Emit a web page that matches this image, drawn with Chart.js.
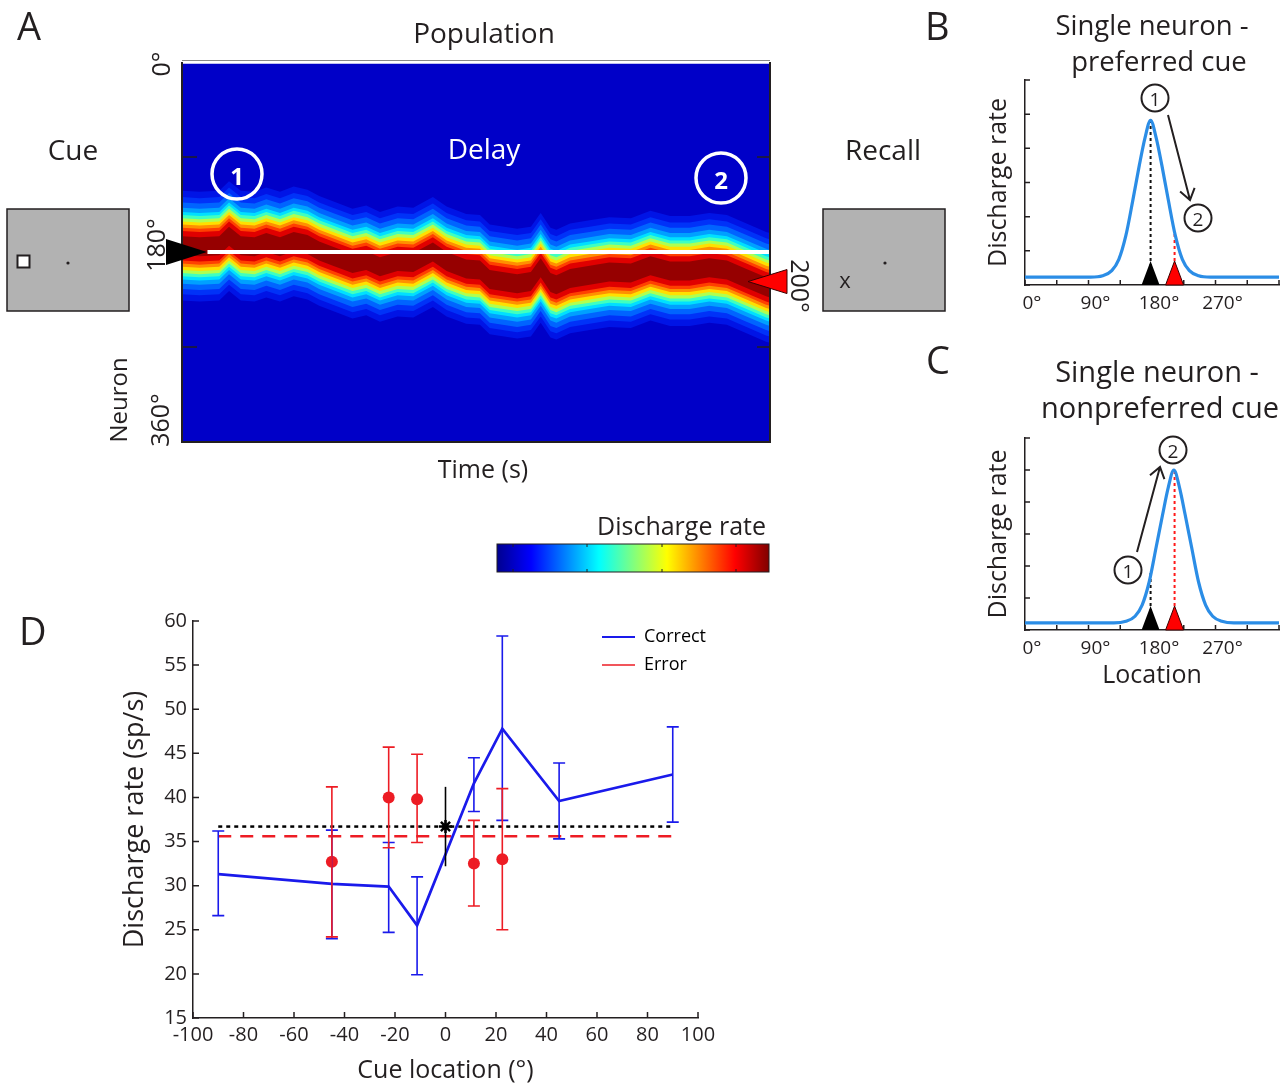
<!DOCTYPE html>
<html lang="en">
<head>
<meta charset="UTF-8">
<title>Population drift and single neuron tuning</title>
<script src="https://cdn.jsdelivr.net/npm/chart.js"></script>
<style>
  body { margin: 0; background: #fff; }
  #page { position: relative; width: 1286px; height: 1086px; overflow: hidden; }
  canvas { position: absolute; }
  #overlay { position: absolute; left: 0; top: 0; pointer-events: none; }
</style>
</head>
<body>
<div id="page">
  <canvas id="heat" width="680" height="430" style="left:140px;top:40px"></canvas>
  <canvas id="prefChart" width="326" height="250" style="left:960px;top:70px"></canvas>
  <canvas id="nonprefChart" width="326" height="275" style="left:960px;top:420px"></canvas>
  <canvas id="rateChart" width="640" height="496" style="left:100px;top:590px"></canvas>

  <svg id="overlay" width="1286" height="1086" font-family="'Open Sans', sans-serif" fill="#231f20">
    <defs>
      <linearGradient id="jet" x1="0" x2="1" y1="0" y2="0">
        <stop offset="0" stop-color="#00008f"/>
        <stop offset="0.125" stop-color="#0000ff"/>
        <stop offset="0.375" stop-color="#00ffff"/>
        <stop offset="0.625" stop-color="#ffff00"/>
        <stop offset="0.875" stop-color="#ff0000"/>
        <stop offset="1" stop-color="#800000"/>
      </linearGradient>
    </defs>
    <!-- panel letters -->
    <text x="17" y="40" font-size="38">A</text>
    <text x="925" y="40" font-size="38">B</text>
    <text x="926" y="374" font-size="38">C</text>
    <text x="19" y="645" font-size="38">D</text>

    <!-- panel A text -->
    <text x="484" y="43" font-size="28" text-anchor="middle">Population</text>
    <text x="73" y="160" font-size="28" text-anchor="middle">Cue</text>
    <text x="883" y="160" font-size="28" text-anchor="middle">Recall</text>
    <text x="484" y="159" font-size="28" text-anchor="middle" fill="#ffffff">Delay</text>
    <text x="483" y="478" font-size="25" text-anchor="middle">Time (s)</text>
    <text transform="translate(160,64) rotate(-90)" font-size="25" text-anchor="middle" dominant-baseline="central">0°</text>
    <text transform="translate(155,245) rotate(-90)" font-size="25" text-anchor="middle" dominant-baseline="central">180°</text>
    <text transform="translate(159,420) rotate(-90)" font-size="25" text-anchor="middle" dominant-baseline="central">360°</text>
    <text transform="translate(117,400) rotate(-90)" font-size="24" text-anchor="middle" dominant-baseline="central">Neuron</text>
    <text transform="translate(801,286) rotate(90)" font-size="25" text-anchor="middle" dominant-baseline="central">200°</text>

    <!-- circled epochs -->
    <circle cx="237" cy="174" r="25" fill="none" stroke="#ffffff" stroke-width="3.5"/>
    <text x="237" y="175" font-size="24" font-weight="bold" fill="#ffffff" text-anchor="middle" dominant-baseline="central">1</text>
    <circle cx="721" cy="178" r="25" fill="none" stroke="#ffffff" stroke-width="3.5"/>
    <text x="721" y="179" font-size="24" font-weight="bold" fill="#ffffff" text-anchor="middle" dominant-baseline="central">2</text>

    <!-- cue and recall screens -->
    <rect x="7" y="209" width="122" height="102" fill="#b2b2b2" stroke="#231f20" stroke-width="1.5"/>
    <rect x="17.5" y="255.5" width="12" height="12" fill="#ffffff" stroke="#231f20" stroke-width="2"/>
    <circle cx="68" cy="263" r="1.6"/>
    <rect x="823" y="209" width="122" height="102" fill="#b2b2b2" stroke="#231f20" stroke-width="1.5"/>
    <text x="845" y="279" font-size="22" text-anchor="middle" dominant-baseline="central">x</text>
    <circle cx="885" cy="263" r="1.6"/>

    <!-- colour bar -->
    <text x="766" y="535" font-size="25" text-anchor="end">Discharge rate</text>
    <rect x="497" y="544" width="272" height="28" fill="url(#jet)" stroke="#231f20" stroke-width="1"/>
    <path d="M513 544v3M587 544v3M662 544v3M736 544v3M513 572v-3M587 572v-3M662 572v-3M736 572v-3" stroke="#231f20" stroke-width="1"/>

    <!-- panel B -->
    <text x="1152" y="35" font-size="27.5" text-anchor="middle">Single neuron -</text>
    <text x="1159" y="71" font-size="27.5" text-anchor="middle">preferred cue</text>
    <circle cx="1155" cy="98" r="13.5" fill="#ffffff" stroke="#231f20" stroke-width="2"/>
    <text x="1155" y="99" font-size="19" text-anchor="middle" dominant-baseline="central">1</text>
    <circle cx="1198" cy="218" r="13.5" fill="#ffffff" stroke="#231f20" stroke-width="2"/>
    <text x="1198" y="219" font-size="19" text-anchor="middle" dominant-baseline="central">2</text>
    <path d="M1168 115L1190 200M1180.1 191.6L1190 200L1194.6 187.8" fill="none" stroke="#231f20" stroke-width="2"/>

    <!-- panel C -->
    <text x="1157" y="382" font-size="29" text-anchor="middle">Single neuron -</text>
    <text x="1160" y="418" font-size="29" text-anchor="middle">nonpreferred cue</text>
    <circle cx="1128" cy="570" r="13.5" fill="#ffffff" stroke="#231f20" stroke-width="2"/>
    <text x="1128" y="571" font-size="19" text-anchor="middle" dominant-baseline="central">1</text>
    <circle cx="1173" cy="450" r="13.5" fill="#ffffff" stroke="#231f20" stroke-width="2"/>
    <text x="1173" y="451" font-size="19" text-anchor="middle" dominant-baseline="central">2</text>
    <path d="M1137 552L1160 467M1150 475.3L1160 467L1164.4 479.2" fill="none" stroke="#231f20" stroke-width="2"/>
  </svg>
</div>

<script>
// ---- Panel A: population activity bump over the delay ----
const heatTime = [0, 0.09, 0.19, 0.24, 0.30, 0.37, 0.43, 0.50, 0.57, 0.64,
                  0.70, 0.77, 0.87, 0.94, 1.01, 1.10, 1.18, 1.28, 1.35, 1.45,
                  1.52, 1.57, 1.71, 1.78, 1.83, 1.88, 1.91, 1.98, 2.08, 2.18,
                  2.29, 2.39, 2.49, 2.59, 2.69, 2.78, 2.88, 2.98, 3.00];
// preferred location (deg) of the neurons at the peak of the bump
const heatCenter = [174, 175, 174, 165, 174, 175, 171, 175, 170, 173,
                    179, 184, 191, 188, 194, 189, 190, 180, 189, 196,
                    197, 206, 210, 208, 195, 209, 211, 205, 202, 199,
                    200, 193, 198, 198, 195, 197, 205, 213, 214];
const cueLocation = 180;
const recallLocation = 208;
const cueLineTime = [0.13, 3];
const heatTickLocs = [90, 270];

// ---- Panels B, C: single neuron tuning curves ----
const prefLoc  = [0, 93, 110, 123, 133, 143, 153, 162, 170, 178, 186, 194, 203, 213, 223, 233, 246, 263, 360];
const prefRate = [0.23, 0.23, 0.27, 0.42, 0.75, 1.45, 2.5, 3.5, 4.3, 4.82, 4.3, 3.5, 2.5, 1.45, 0.75, 0.42, 0.27, 0.23, 0.23];
const nonprefLoc  = [0, 126, 143, 156, 166, 176, 186, 195, 203, 211, 219, 227, 236, 246, 256, 266, 279, 296, 360];
const nonprefRate = [0.22, 0.22, 0.27, 0.43, 0.78, 1.5, 2.6, 3.6, 4.45, 5.0, 4.45, 3.6, 2.6, 1.5, 0.78, 0.43, 0.27, 0.22, 0.22];
const prefMarks = [178, 212];        // cue, recall
const prefMarkRate = [4.82, 1.52];
const nonprefMarks = [178, 212];
const nonprefMarkRate = [1.8, 5.0];

// ---- Panel D: discharge rate vs cue location ----
const cueLoc      = [-90, -45, -22.5, -11.25, 11.25, 22.5, 45, 90];
const correctRate = [31.3, 30.2, 29.9, 25.5, 41.6, 47.8, 39.6, 42.6];
const correctLow  = [26.6, 24.0, 24.7, 19.9, 38.4, 37.4, 35.3, 37.2];
const correctHigh = [36.2, 36.3, 34.9, 31.0, 44.5, 58.3, 43.9, 48.0];
const errorLoc    = [-45, -22.5, -11.25, 11.25, 22.5];
const errorRate   = [32.7, 40.0, 39.8, 32.5, 33.0];
const errorLow    = [24.2, 34.3, 34.9, 27.7, 25.0];
const errorHigh   = [41.2, 45.7, 44.9, 37.4, 41.0];
const fixRate = [36.7], fixLow = [32.2], fixHigh = [41.2];
const meanSpan = [-90, 90];
const meanCorrect = 36.7;
const meanError = 35.6;

const INK = '#231f20';
const BLUE = '#1a1aeb';
const RED = '#ed1c24';
const TUNE = '#2b8de6';
const HEAT_BG = '#0000c8';
// colour bands of the bump, inner to outer
const heatLevels = [
  { half: 9,  color: '#960000' },
  { half: 14, color: '#e00000' },
  { half: 17, color: '#ff4000' },
  { half: 20, color: '#ff9000' },
  { half: 23, color: '#ffe000' },
  { half: 26, color: '#b0ff50' },
  { half: 29, color: '#40ffc0' },
  { half: 32, color: '#00e0ff' },
  { half: 36, color: '#00a0ff' },
  { half: 41, color: '#0064ff' },
  { half: 46, color: '#0032f8' },
  { half: 52, color: '#0014e6' }
];

Chart.defaults.font.family = "'Open Sans', sans-serif";
Chart.defaults.color = INK;
Chart.defaults.animation = false;

function tri(ctx, tipX, tipY, baseX1, baseY1, baseX2, baseY2, fill, stroke) {
  ctx.beginPath();
  ctx.moveTo(tipX, tipY); ctx.lineTo(baseX1, baseY1); ctx.lineTo(baseX2, baseY2); ctx.closePath();
  ctx.fillStyle = fill; ctx.fill();
  if (stroke) { ctx.strokeStyle = stroke; ctx.lineWidth = 1; ctx.stroke(); }
}

// small ticks drawn inside the plot box
function innerTicks(len) {
  return {
    id: 'innerTicks',
    afterDraw(chart) {
      const { ctx, chartArea: a, scales: { x, y } } = chart;
      ctx.save();
      ctx.strokeStyle = INK; ctx.lineWidth = 1.5;
      ctx.beginPath();
      x.ticks.forEach(t => { const px = x.getPixelForValue(t.value); ctx.moveTo(px, a.bottom); ctx.lineTo(px, a.bottom - len); });
      y.ticks.forEach(t => { const py = y.getPixelForValue(t.value); ctx.moveTo(a.left, py); ctx.lineTo(a.left + len, py); });
      ctx.stroke();
      ctx.restore();
    }
  };
}

// ---------- Panel A ----------
const heatDecor = {
  id: 'heatDecor',
  beforeDatasetsDraw(chart) {
    const { ctx, chartArea: a } = chart;
    ctx.save(); ctx.fillStyle = HEAT_BG; ctx.fillRect(a.left, a.top, a.width, a.height); ctx.restore();
  },
  afterDraw(chart) {
    const { ctx, chartArea: a, scales: { y } } = chart;
    ctx.save();
    ctx.strokeStyle = INK; ctx.lineWidth = 2;
    ctx.beginPath();
    ctx.moveTo(a.left, a.top); ctx.lineTo(a.left, a.bottom); ctx.lineTo(a.right, a.bottom); ctx.lineTo(a.right, a.top);
    ctx.stroke();
    ctx.strokeStyle = '#888'; ctx.lineWidth = 1;
    ctx.beginPath(); ctx.moveTo(a.left, a.top - 1.5); ctx.lineTo(a.right, a.top - 1.5); ctx.stroke();
    ctx.strokeStyle = '#ffffff'; ctx.lineWidth = 2.5;
    ctx.beginPath(); ctx.moveTo(a.left + 1, a.top + 0.5); ctx.lineTo(a.right - 1, a.top + 0.5); ctx.stroke();
    ctx.strokeStyle = INK; ctx.lineWidth = 1.5;
    ctx.beginPath();
    heatTickLocs.forEach(v => {
      const py = y.getPixelForValue(v);
      ctx.moveTo(a.left, py); ctx.lineTo(a.left + 15, py);
      ctx.moveTo(a.right - 13, py); ctx.lineTo(a.right, py);
    });
    ctx.stroke();
    const yc = y.getPixelForValue(cueLocation);
    tri(ctx, a.left + 25, yc, a.left - 16, yc - 13, a.left - 16, yc + 13, '#000000');
    const yr = y.getPixelForValue(recallLocation);
    tri(ctx, a.right - 22, yr, a.right + 17, yr - 12, a.right + 17, yr + 12, '#ff0000', '#3a0000');
    ctx.restore();
  }
};

const heatDatasets = [{
  data: cueLineTime.map(t => ({ x: t, y: cueLocation })),
  borderColor: '#ffffff', borderWidth: 4, pointRadius: 0, fill: false
}];
heatLevels.forEach(lv => {
  heatDatasets.push({
    data: heatTime.map((t, i) => ({ x: t, y: heatCenter[i] - lv.half })),
    borderWidth: 0, borderColor: 'rgba(0,0,0,0)', pointRadius: 0,
    fill: '+1', backgroundColor: lv.color
  });
  heatDatasets.push({
    data: heatTime.map((t, i) => ({ x: t, y: heatCenter[i] + lv.half })),
    borderWidth: 0, borderColor: 'rgba(0,0,0,0)', pointRadius: 0, fill: false
  });
});

new Chart(document.getElementById('heat'), {
  type: 'line',
  data: { datasets: heatDatasets },
  options: {
    responsive: false,
    events: [],
    layout: { padding: { left: 42, top: 22, right: 50, bottom: 28 } },
    scales: {
      x: { type: 'linear', min: 0, max: 3, display: false },
      y: { type: 'linear', min: 0, max: 360, reverse: true, display: false }
    },
    plugins: { legend: { display: false }, tooltip: { enabled: false } }
  },
  plugins: [heatDecor]
});

// ---------- Panels B and C ----------
function tuningChart(id, loc, rate, marks, markRate, xHeight, padTop, xTitle) {
  const markers = {
    id: 'locMarkers',
    afterDraw(chart) {
      const { ctx, chartArea: a, scales: { x } } = chart;
      ctx.save();
      const colors = [['#000000', null], ['#ff0000', '#3a0000']];
      marks.forEach((m, i) => {
        const px = x.getPixelForValue(m);
        tri(ctx, px, a.bottom - 24, px - 9, a.bottom, px + 9, a.bottom, colors[i][0], colors[i][1]);
      });
      ctx.restore();
    }
  };
  return new Chart(document.getElementById(id), {
    type: 'line',
    data: {
      datasets: [
        {
          data: loc.map((v, i) => ({ x: v, y: rate[i] })),
          borderColor: TUNE, borderWidth: 3.2, pointRadius: 0,
          cubicInterpolationMode: 'monotone', fill: false
        },
        {
          data: [{ x: marks[0], y: 0 }, { x: marks[0], y: markRate[0] }],
          borderColor: '#111111', borderWidth: 2, borderDash: [3, 3], pointRadius: 0, fill: false
        },
        {
          data: [{ x: marks[1], y: 0 }, { x: marks[1], y: markRate[1] }],
          borderColor: '#ff1a1a', borderWidth: 2, borderDash: [3, 3], pointRadius: 0, fill: false
        }
      ]
    },
    options: {
      responsive: false,
      events: [],
      layout: { padding: { left: 0, top: padTop, right: 4, bottom: 0 } },
      scales: {
        x: {
          type: 'linear', min: 0, max: 360,
          grid: { display: false, drawTicks: false },
          border: { color: INK, width: 1.5 },
          ticks: {
            stepSize: 45, autoSkip: false, maxRotation: 0, padding: 7, labelOffset: 7,
            font: { size: 19 },
            callback: v => (v % 90 === 0 && v < 360) ? v + '°' : ''
          },
          title: xTitle ? { display: true, text: xTitle, font: { size: 25 }, padding: { top: 0, bottom: 4 } } : { display: false },
          afterFit: s => { s.height = xHeight; }
        },
        y: {
          type: 'linear', min: 0, max: 6,
          grid: { display: false, drawTicks: false },
          border: { color: INK, width: 1.5 },
          ticks: { display: false, stepSize: 1 },
          title: { display: true, text: 'Discharge rate', font: { size: 25 }, padding: { top: 24, bottom: 0 } },
          afterFit: s => { s.width = 65; }
        }
      },
      plugins: { legend: { display: false }, tooltip: { enabled: false } }
    },
    plugins: [innerTicks(5), markers]
  });
}

tuningChart('prefChart', prefLoc, prefRate, prefMarks, prefMarkRate, 35, 10, null);
tuningChart('nonprefChart', nonprefLoc, nonprefRate, nonprefMarks, nonprefMarkRate, 65, 18, 'Location');

// ---------- Panel D ----------
const errorBars = {
  id: 'errorBars',
  afterDatasetsDraw(chart) {
    const { ctx, scales: { y } } = chart;
    chart.data.datasets.forEach((ds, i) => {
      if (!ds.errLow) return;
      const meta = chart.getDatasetMeta(i);
      ctx.save();
      ctx.strokeStyle = ds.errColor; ctx.lineWidth = 1.6;
      meta.data.forEach((pt, j) => {
        const yl = y.getPixelForValue(ds.errLow[j]);
        const yh = y.getPixelForValue(ds.errHigh[j]);
        ctx.beginPath();
        ctx.moveTo(pt.x, yl); ctx.lineTo(pt.x, yh);
        if (ds.errCap) {
          ctx.moveTo(pt.x - ds.errCap, yl); ctx.lineTo(pt.x + ds.errCap, yl);
          ctx.moveTo(pt.x - ds.errCap, yh); ctx.lineTo(pt.x + ds.errCap, yh);
        }
        ctx.stroke();
      });
      ctx.restore();
    });
  }
};

// put the legend in the upper right of the plot box
const legendCorner = {
  id: 'legendCorner',
  afterLayout(chart) {
    const lg = chart.legend;
    if (!lg) return;
    const w = lg.width, h = lg.height;
    lg.left = 492; lg.right = 492 + w;
    lg.top = 28; lg.bottom = 28 + h;
  }
};

new Chart(document.getElementById('rateChart'), {
  type: 'line',
  data: {
    datasets: [
      {
        label: 'Correct',
        data: cueLoc.map((v, i) => ({ x: v, y: correctRate[i] })),
        borderColor: BLUE, borderWidth: 2.7, pointRadius: 0, fill: false,
        errLow: correctLow, errHigh: correctHigh, errColor: BLUE, errCap: 6
      },
      {
        label: 'Error',
        data: errorLoc.map((v, i) => ({ x: v, y: errorRate[i] })),
        showLine: false, pointRadius: 6, pointBackgroundColor: RED, pointBorderWidth: 0,
        borderColor: RED, fill: false,
        errLow: errorLow, errHigh: errorHigh, errColor: RED, errCap: 6
      },
      {
        label: 'Fixation',
        data: fixRate.map(v => ({ x: 0, y: v })),
        showLine: false, pointStyle: 'star', pointRadius: 6.5, pointBorderWidth: 2.5,
        pointBorderColor: '#000000', borderColor: '#000000', fill: false,
        errLow: fixLow, errHigh: fixHigh, errColor: '#000000', errCap: 0
      },
      {
        label: 'Mean correct',
        data: meanSpan.map(v => ({ x: v, y: meanCorrect })),
        borderColor: '#000000', borderWidth: 2.5, borderDash: [4, 4], pointRadius: 0, fill: false
      },
      {
        label: 'Mean error',
        data: meanSpan.map(v => ({ x: v, y: meanError })),
        borderColor: RED, borderWidth: 2.5, borderDash: [13, 9], pointRadius: 0, fill: false
      }
    ]
  },
  options: {
    responsive: false,
    events: [],
    layout: { padding: { left: 0, top: 31, right: 42, bottom: 0 } },
    scales: {
      x: {
        type: 'linear', min: -100, max: 100,
        grid: { display: false, drawTicks: false },
        border: { color: INK, width: 1.5 },
        ticks: { stepSize: 20, autoSkip: false, maxRotation: 0, padding: 5, font: { size: 20 } },
        title: { display: true, text: 'Cue location (°)', font: { size: 25 }, padding: { top: 0, bottom: 0 } },
        afterFit: s => { s.height = 68; }
      },
      y: {
        type: 'linear', min: 15, max: 60,
        grid: { display: false, drawTicks: false },
        border: { color: INK, width: 1.5 },
        ticks: { stepSize: 5, padding: 6, font: { size: 20 } },
        title: { display: true, text: 'Discharge rate (sp/s)', font: { size: 27 }, padding: { top: 19, bottom: 0 } },
        afterFit: s => { s.width = 93; }
      }
    },
    plugins: {
      tooltip: { enabled: false },
      legend: {
        display: true, position: 'chartArea', align: 'start',
        labels: {
          usePointStyle: true, pointStyleWidth: 33, padding: 10,
          font: { size: 18 }, color: INK,
          generateLabels: () => [
            { text: 'Correct', pointStyle: 'line', strokeStyle: BLUE, fillStyle: BLUE, lineWidth: 2, datasetIndex: 0 },
            { text: 'Error', pointStyle: 'line', strokeStyle: RED, fillStyle: RED, lineWidth: 1.6, datasetIndex: 1 }
          ]
        }
      }
    }
  },
  plugins: [innerTicks(6), errorBars, legendCorner]
});
</script>
</body>
</html>
